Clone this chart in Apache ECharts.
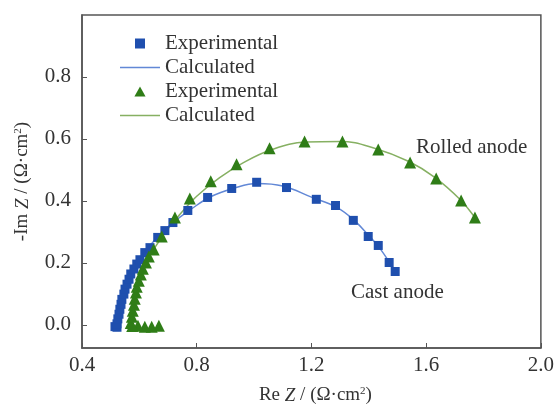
<!DOCTYPE html>
<html><head><meta charset="utf-8">
<script src="https://cdn.jsdelivr.net/npm/echarts@6/dist/echarts.min.js"></script>
<style>html,body{margin:0;padding:0;background:#fff}#c{width:557px;height:410px}</style>
</head><body><div id="c"></div>
<script>
// Cast anode – experimental (Re Z, -Im Z)
const castExpX = [0.515,0.522,0.522,0.525,0.529,0.532,0.536,0.539,0.546,0.550,0.557,0.564,0.570,0.581,0.591,0.602,0.619,0.637,0.664,0.689,0.717,0.769,0.838,0.922,1.009,1.113,1.217,1.284,1.346,1.398,1.433,1.471,1.492];
const castExpY = [-0.006,-0.008,0.003,0.019,0.034,0.050,0.066,0.082,0.099,0.115,0.131,0.147,0.164,0.180,0.196,0.210,0.233,0.249,0.282,0.304,0.330,0.369,0.411,0.440,0.460,0.443,0.405,0.385,0.337,0.285,0.256,0.201,0.172];
// Cast anode – calculated
const castCalX = [0.520,0.530,0.545,0.565,0.590,0.620,0.660,0.720,0.780,0.850,0.930,1.010,1.100,1.200,1.290,1.350,1.400,1.440,1.492];
const castCalY = [0.000,0.040,0.100,0.150,0.195,0.235,0.280,0.332,0.373,0.414,0.441,0.456,0.448,0.412,0.378,0.336,0.288,0.245,0.172];
// Rolled anode – experimental
const rollExpX = [0.668,0.643,0.619,0.595,0.575,0.570,0.574,0.577,0.581,0.584,0.588,0.591,0.598,0.605,0.612,0.623,0.633,0.650,0.678,0.724,0.776,0.849,0.939,1.054,1.176,1.308,1.433,1.544,1.635,1.722,1.770];
const rollExpY = [-0.003,-0.006,-0.006,-0.003,-0.004,0.006,0.026,0.045,0.065,0.084,0.104,0.123,0.142,0.162,0.181,0.201,0.220,0.243,0.285,0.346,0.408,0.463,0.518,0.570,0.592,0.592,0.566,0.524,0.472,0.401,0.346];
// Rolled anode – calculated
const rollCalX = [0.570,0.578,0.590,0.605,0.625,0.650,0.690,0.740,0.800,0.880,0.960,1.060,1.180,1.300,1.420,1.540,1.630,1.720,1.770];
const rollCalY = [0.000,0.050,0.110,0.165,0.205,0.243,0.298,0.355,0.415,0.475,0.522,0.565,0.590,0.592,0.570,0.527,0.476,0.403,0.346];

const xTicks = [0.4,0.8,1.2,1.6,2.0];
const yTicks = [0.0,0.2,0.4,0.6,0.8];

const zip = (a,b)=>a.map((v,i)=>[v,b[i]]);
const font = 'Liberation Serif';
const txt = '#333';
const blueM = '#1f4fae', blueL = '#6288d6', greenM = '#2f7d17', greenL = '#86b062';
const lineIcon = 'path://M0,0h40v1.6h-40z';

const chart = echarts.init(document.getElementById('c'), null, {renderer:'canvas'});
chart.setOption({
  animation:false,
  backgroundColor:'#fff',
  grid:{left:82,right:15,top:15,bottom:55,show:true,borderColor:'#555',borderWidth:1.5},
  legend:{
    orient:'vertical', left:115, top:28, itemGap:3, itemWidth:40, itemHeight:10, symbolKeepAspect:true,
    textStyle:{fontFamily:font,fontSize:21,color:txt},
    data:[
      {name:'Experimental',icon:'path://M0,0h10v10h-10z'},
      {name:'Calculated',icon:lineIcon},
      {name:'Experimental ',icon:'path://M5,0L10,9L0,9z'},
      {name:'Calculated ',icon:lineIcon}
    ]
  },
  xAxis:{
    type:'value', min:0.4, max:2.0,
    axisLine:{show:true,onZero:false,lineStyle:{color:'#555',width:1.5}},
    axisTick:{show:true,inside:true,length:5,customValues:xTicks,lineStyle:{color:'#555'}},
    axisLabel:{customValues:xTicks,formatter:v=>v.toFixed(1),fontFamily:font,fontSize:21,color:txt,margin:7},
    splitLine:{show:false},
    name:'{a|Re }{i|Z}{a| / (Ω·cm}{s|2}{a|)}', nameLocation:'middle', nameGap:38,
    nameTextStyle:{padding:[0,0,0,8],rich:{a:{fontFamily:font,fontSize:19,color:txt},i:{fontFamily:font,fontSize:19,fontStyle:'italic',color:txt},s:{fontFamily:font,fontSize:11,color:txt,verticalAlign:'top',padding:[0,0,8,0]}}}
  },
  yAxis:{
    type:'value', min:-0.075, max:1.0,
    axisLine:{show:true,onZero:false,lineStyle:{color:'#555',width:1.5}},
    axisTick:{show:true,inside:true,length:5,customValues:yTicks,lineStyle:{color:'#555'}},
    axisLabel:{customValues:yTicks,formatter:v=>v.toFixed(1),fontFamily:font,fontSize:21,color:txt,margin:11},
    splitLine:{show:false},
    name:'{a|-Im }{i|Z}{a| / (Ω·cm}{s|2}{a|)}', nameLocation:'middle', nameGap:50, nameRotate:90,
    nameTextStyle:{rich:{a:{fontFamily:font,fontSize:19,color:txt},i:{fontFamily:font,fontSize:19,fontStyle:'italic',color:txt},s:{fontFamily:font,fontSize:11,color:txt,verticalAlign:'top',padding:[0,0,8,0]}}}
  },
  series:[
    {name:'Calculated',type:'line',data:zip(castCalX,castCalY),smooth:0.4,symbol:'none',lineStyle:{color:blueL,width:1.5},itemStyle:{color:blueL},z:2},
    {name:'Calculated ',type:'line',data:zip(rollCalX,rollCalY),smooth:0.4,symbol:'none',lineStyle:{color:greenL,width:1.5},itemStyle:{color:greenL},z:2},
    {name:'Experimental',type:'scatter',data:zip(castExpX,castExpY),symbol:'rect',symbolSize:9,itemStyle:{color:blueM,opacity:1},z:3},
    {name:'Experimental ',type:'scatter',data:zip(rollExpX,rollExpY),symbol:'triangle',symbolSize:12,itemStyle:{color:greenM,opacity:1},z:4}
  ],
  graphic:[
    {type:'text',left:416,top:137,style:{text:'Rolled anode',font:'21px "Liberation Serif"',fill:txt}},
    {type:'text',left:351,top:282,style:{text:'Cast anode',font:'21px "Liberation Serif"',fill:txt}}
  ]
});
</script></body></html>
